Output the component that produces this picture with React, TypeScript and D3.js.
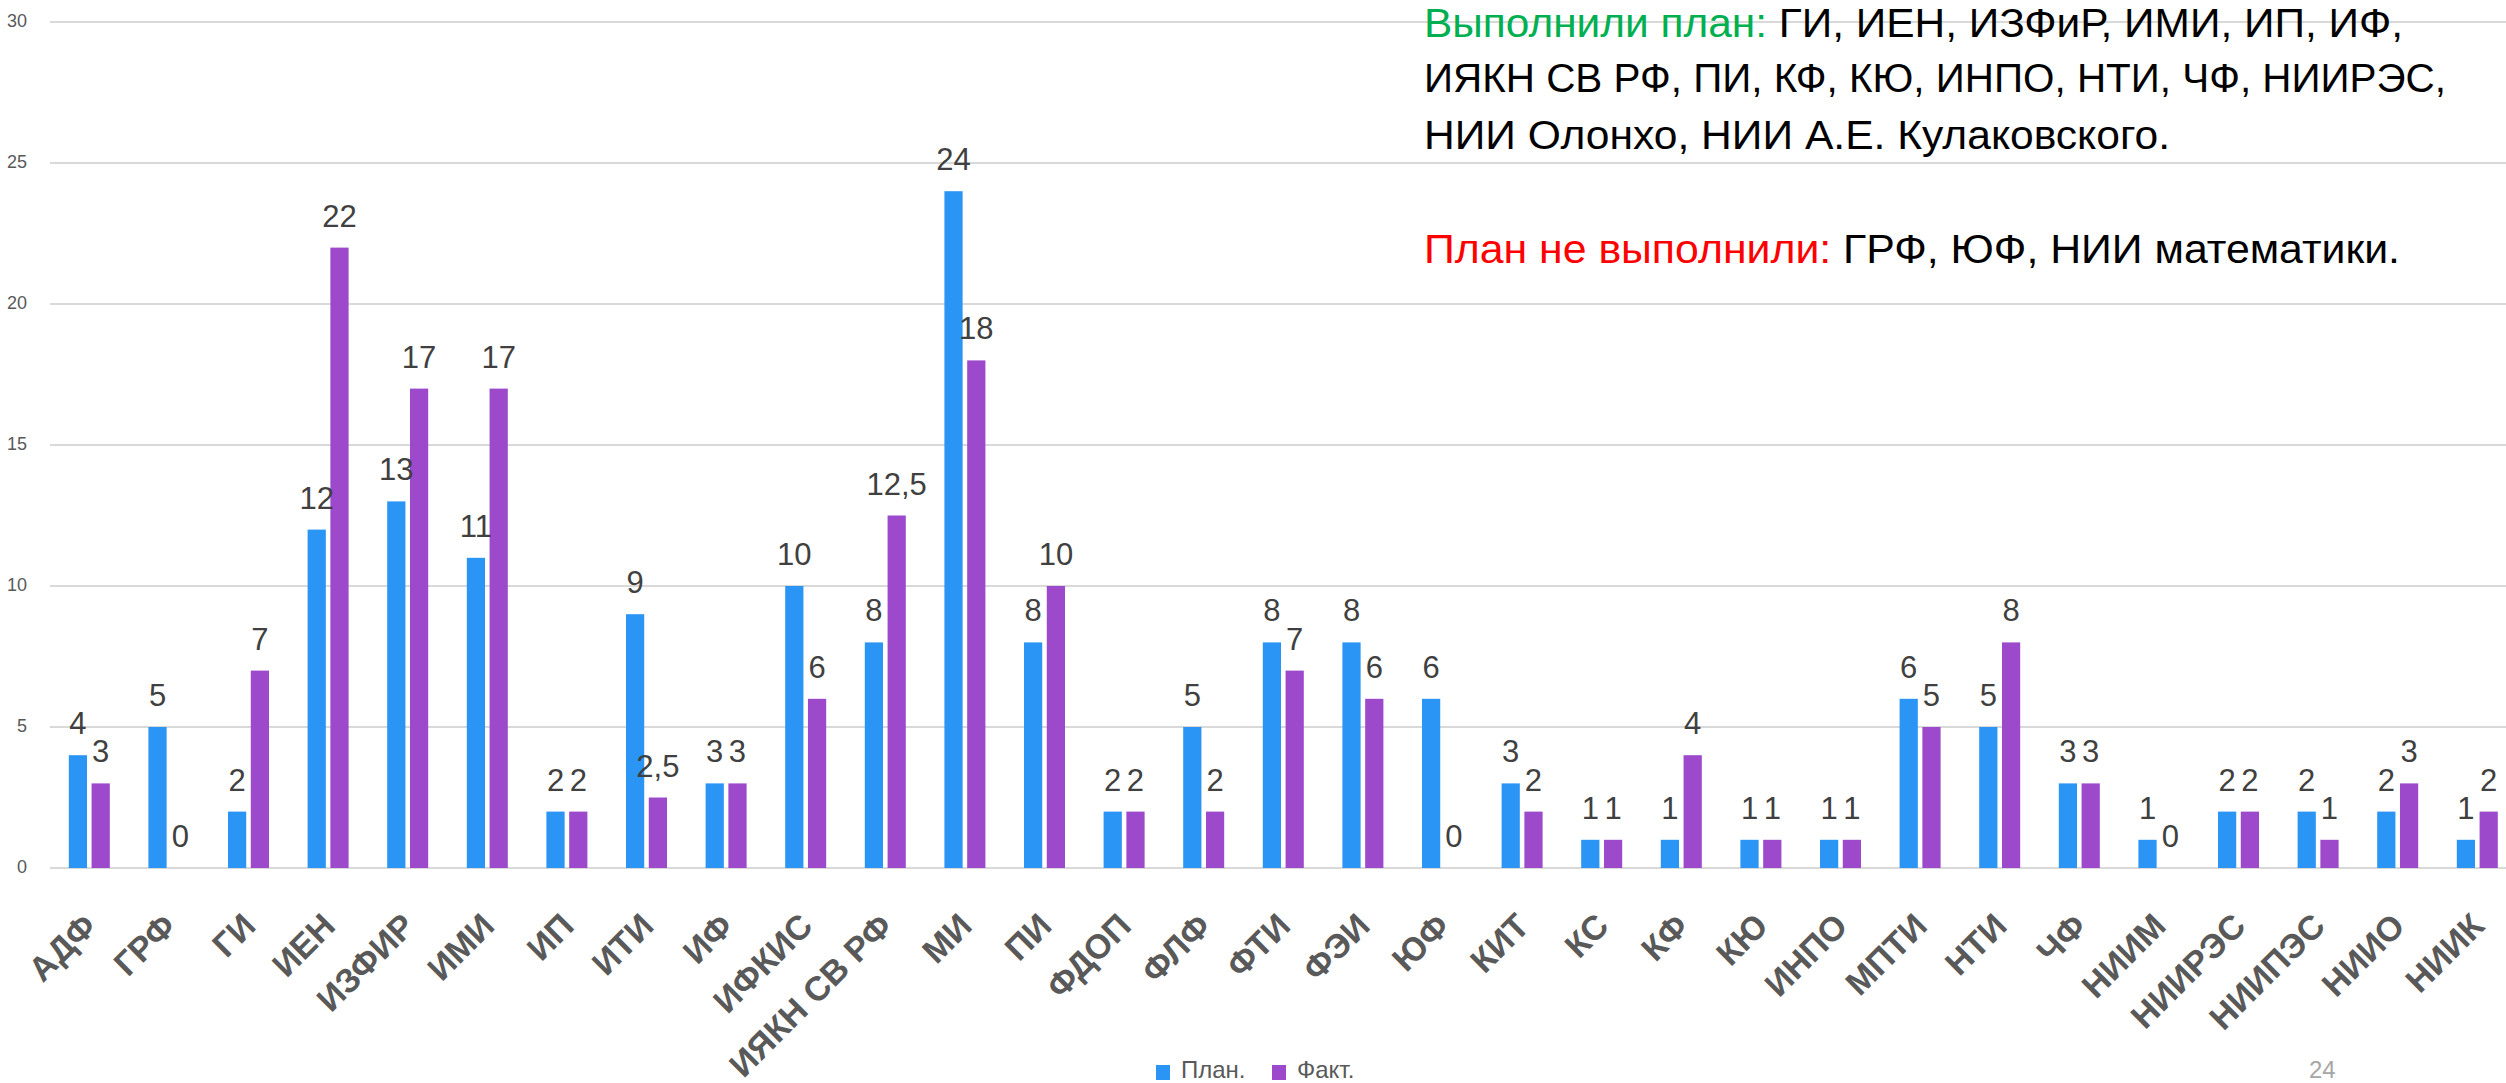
import React from "react";
import * as d3 from "d3";

const categories = [
  "АДФ", "ГРФ", "ГИ", "ИЕН", "ИЗФИР", "ИМИ", "ИП", "ИТИ", "ИФ", "ИФКИС",
  "ИЯКН СВ РФ", "МИ", "ПИ", "ФДОП", "ФЛФ", "ФТИ", "ФЭИ", "ЮФ", "КИТ", "КС",
  "КФ", "КЮ", "ИНПО", "МПТИ", "НТИ", "ЧФ", "НИИМ", "НИИРЭС", "НИИПЭС", "НИИО", "НИИК",
];
const planValues = [4, 5, 2, 12, 13, 11, 2, 9, 3, 10, 8, 24, 8, 2, 5, 8, 8, 6, 3, 1, 1, 1, 1, 6, 5, 3, 1, 2, 2, 2, 1];
const factValues = [3, 0, 7, 22, 17, 17, 2, 2.5, 3, 6, 12.5, 18, 10, 2, 2, 7, 6, 0, 2, 1, 4, 1, 1, 5, 8, 3, 0, 2, 1, 3, 2];
const seriesNames = ["План.", "Факт."];
const seriesColors = ["#2B95F5", "#9C4ACB"];
const yTicks = [0, 5, 10, 15, 20, 25, 30];

const noteDone = "Выполнили план: ";
const noteDoneList1 = "ГИ, ИЕН, ИЗФиР, ИМИ, ИП, ИФ,";
const noteDoneList2 = "ИЯКН СВ РФ, ПИ, КФ, КЮ, ИНПО, НТИ, ЧФ, НИИРЭС,";
const noteDoneList3 = "НИИ Олонхо, НИИ А.Е. Кулаковского.";
const noteFail = "План не выполнили: ";
const noteFailList = "ГРФ, ЮФ, НИИ математики.";
const pageNumber = "24";

const W = 2506;
const H = 1083;
const FONT = "'Liberation Sans', Arial, sans-serif";

const fmt = (v: number) => String(v).replace(".", ",");

export default function App() {
  const left = 49.5;
  const step = 79.6;
  const x = d3
    .scaleBand<string>()
    .domain(categories)
    .range([left, left + step * categories.length])
    .paddingInner(0)
    .paddingOuter(0);
  const x1 = d3.scaleBand<number>().domain([0, 1]).range([-20.5, 20.5]).paddingInner(0.2);
  const y = d3.scaleLinear().domain([0, 30]).range([868, 22]);

  const series = [planValues, factValues];

  return (
    <svg
      width={W}
      height={H}
      style={{ position: "fixed", left: 0, top: 0, background: "#fff" }}
      fontFamily={FONT}
    >
      <rect x={0} y={0} width={W} height={H} fill="#fff" />
      {yTicks.map((t) => (
        <g key={t}>
          <line x1={50} x2={W} y1={y(t)} y2={y(t)} stroke="#d9d9d9" strokeWidth={2} />
          <text
            x={27}
            y={y(t)}
            textAnchor="end"
            dominantBaseline="middle"
            fontSize={18}
            fill="#595959"
          >
            {t}
          </text>
        </g>
      ))}

      {categories.map((c, i) => {
        const cx = (x(c) as number) + x.bandwidth() / 2;
        return (
          <g key={c}>
            {series.map((vals, s) => {
              const bx = cx + (x1(s) as number);
              const bw = x1.bandwidth();
              const v = vals[i];
              return (
                <rect
                  key={s}
                  x={bx}
                  y={y(v)}
                  width={bw}
                  height={y(0) - y(v)}
                  fill={seriesColors[s]}
                />
              );
            })}
          </g>
        );
      })}

      {categories.map((c, i) => {
        const cx = (x(c) as number) + x.bandwidth() / 2;
        return (
          <g key={"l" + c}>
            {series.map((vals, s) => {
              const bx = cx + (x1(s) as number) + x1.bandwidth() / 2;
              const v = vals[i];
              return (
                <text
                  key={s}
                  x={bx}
                  y={y(v) - 21}
                  textAnchor="middle"
                  fontSize={31}
                  fill="#404040"
                >
                  {fmt(v)}
                </text>
              );
            })}
          </g>
        );
      })}

      {categories.map((c) => {
        const cx = (x(c) as number) + x.bandwidth() / 2;
        return (
          <text
            key={"x" + c}
            transform={`translate(${cx + 9},${928}) rotate(-45)`}
            textAnchor="end"
            fontSize={34}
            fontWeight="bold"
            fill="#595959"
          >
            {c}
          </text>
        );
      })}

      {seriesNames.map((n, s) => {
        const lx = [1156, 1272][s];
        return (
          <g key={n}>
            <rect x={lx} y={1065} width={14} height={15} fill={seriesColors[s]} />
            <text x={lx + 25} y={1078} fontSize={24} fill="#595959">
              {n}
            </text>
          </g>
        );
      })}

      <text x={2309} y={1078} fontSize={24} fill="#a6a6a6">
        {pageNumber}
      </text>

      <text x={1424} y={37} fontSize={40} fill="#000" textLength={979} lengthAdjust="spacingAndGlyphs">
        <tspan fill="#00B050">{noteDone}</tspan>
        <tspan>{noteDoneList1}</tspan>
      </text>
      <text x={1424} y={92} fontSize={40} fill="#000" textLength={1022} lengthAdjust="spacingAndGlyphs">
        {noteDoneList2}
      </text>
      <text x={1424} y={149} fontSize={40} fill="#000" textLength={746} lengthAdjust="spacingAndGlyphs">
        {noteDoneList3}
      </text>
      <text x={1424} y={263} fontSize={40} fill="#000" textLength={976} lengthAdjust="spacingAndGlyphs">
        <tspan fill="#FF0000">{noteFail}</tspan>
        <tspan>{noteFailList}</tspan>
      </text>
    </svg>
  );
}
